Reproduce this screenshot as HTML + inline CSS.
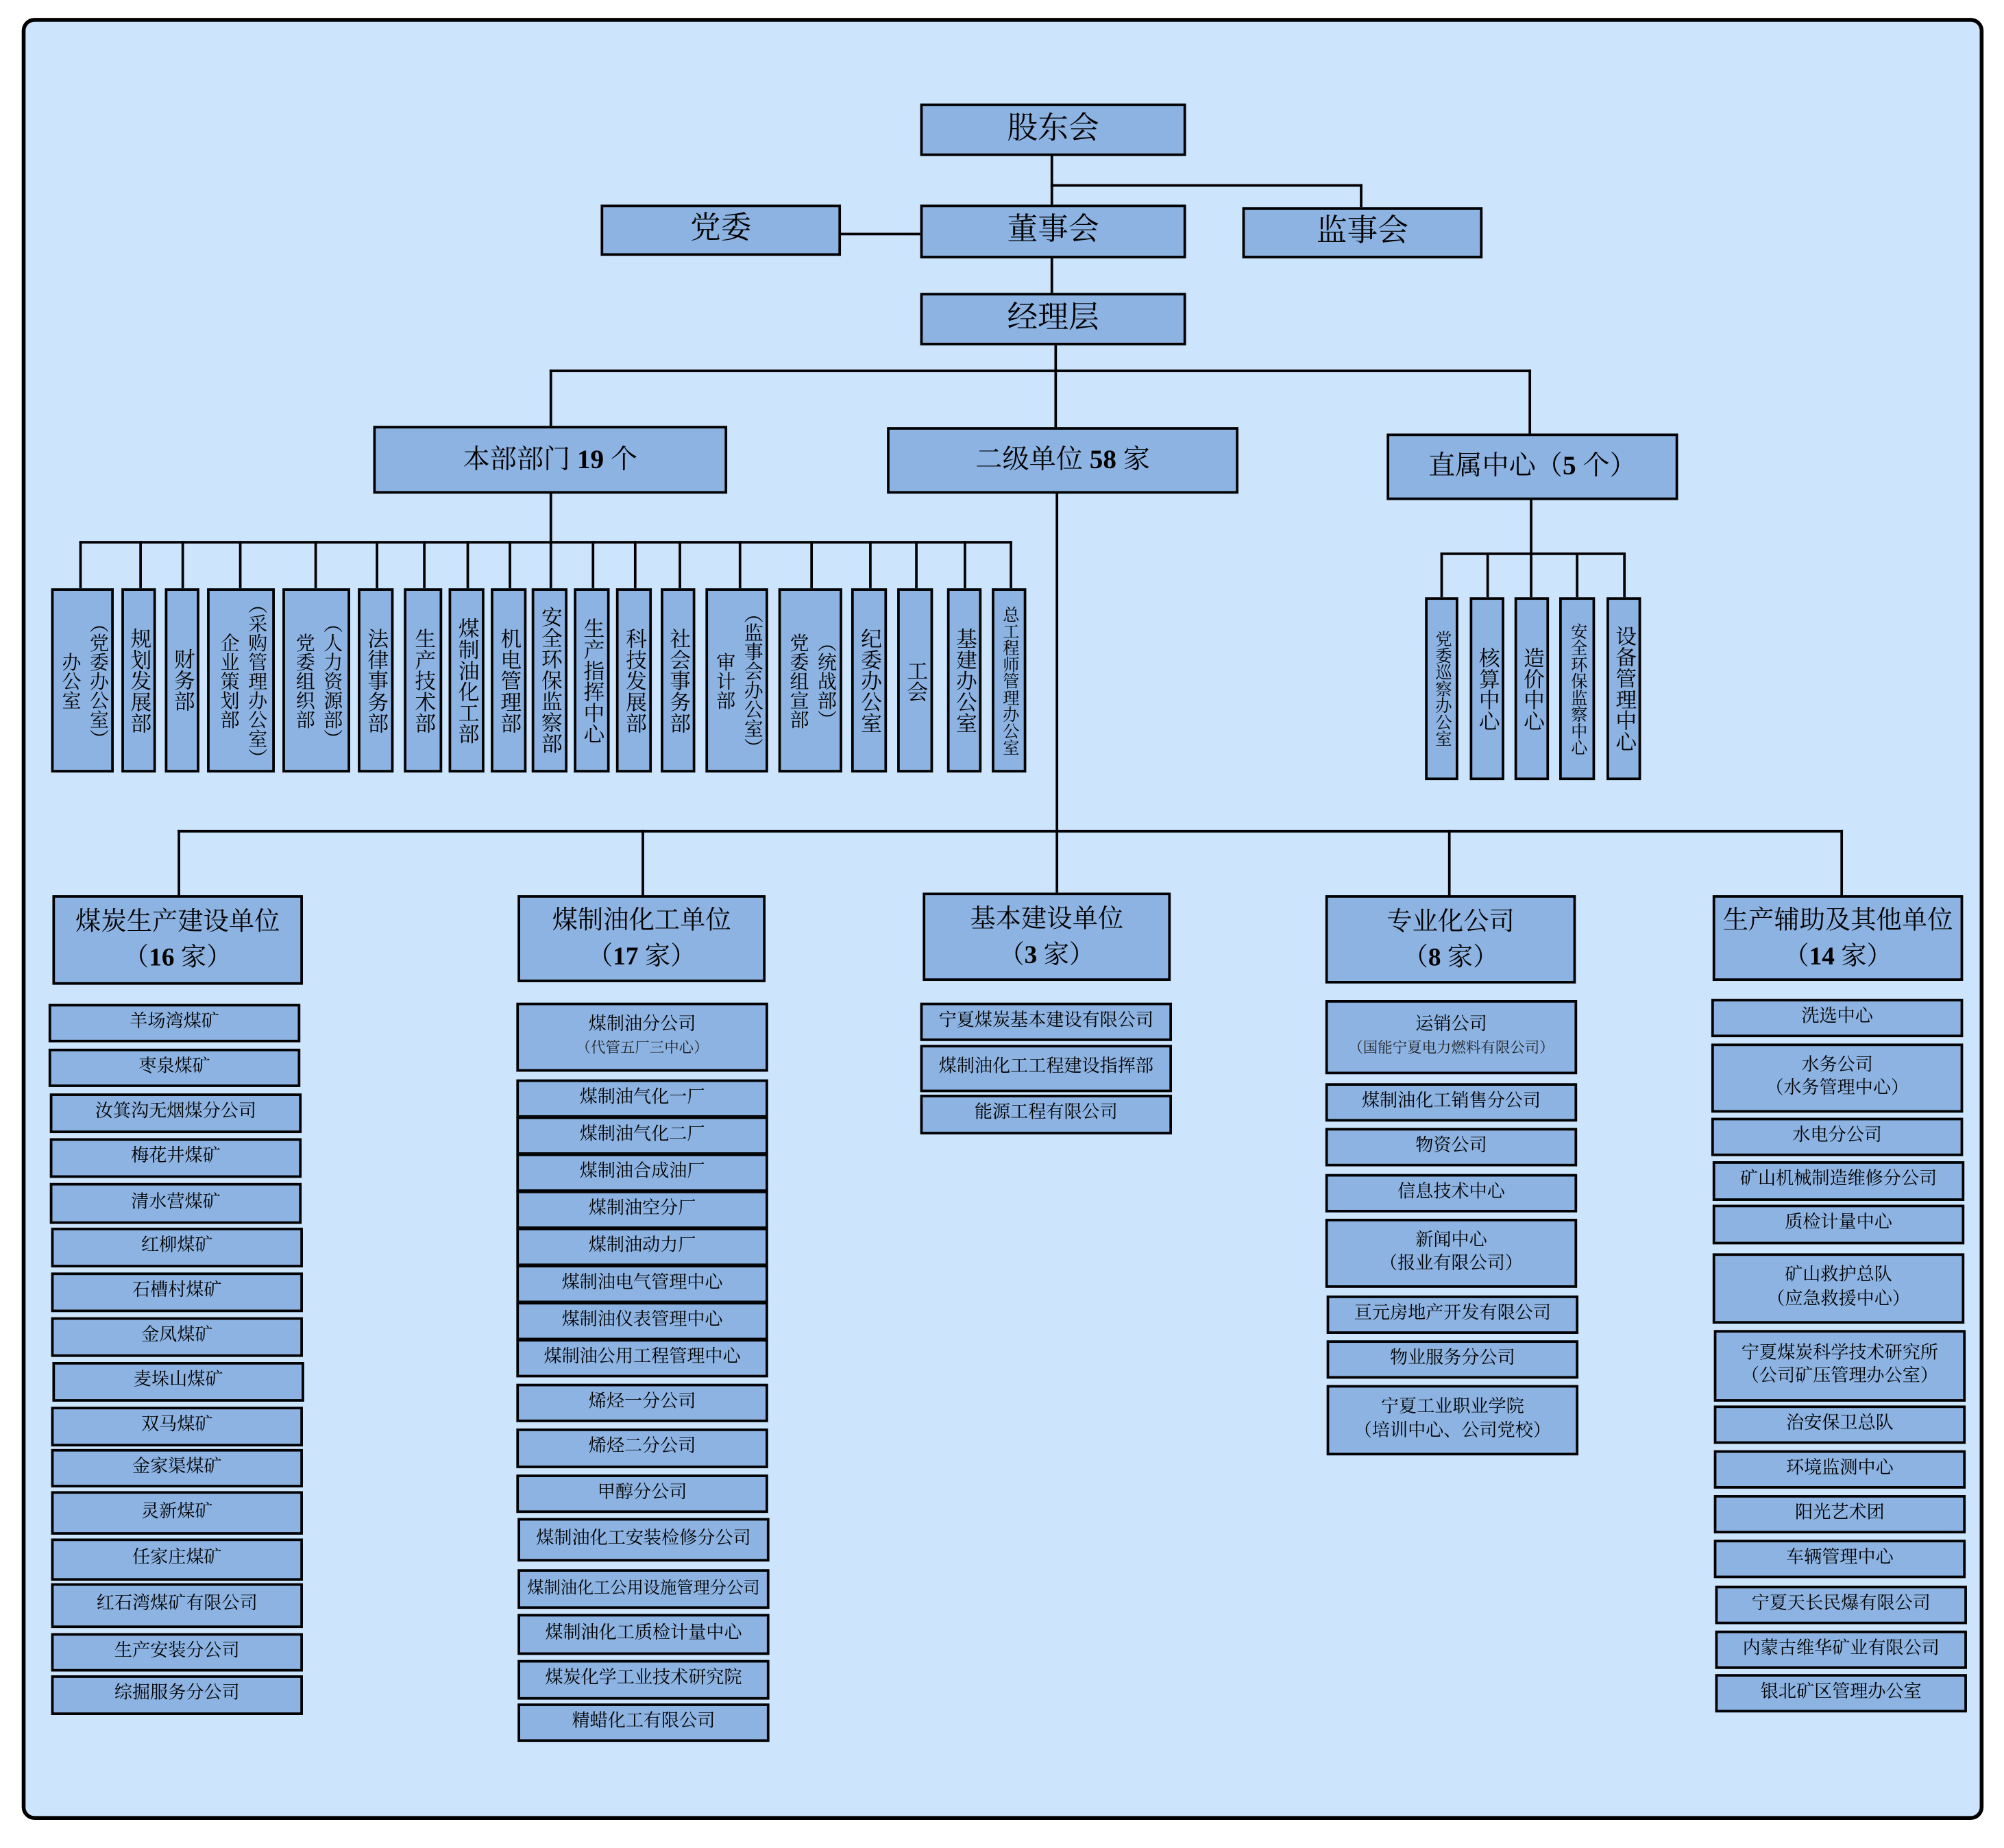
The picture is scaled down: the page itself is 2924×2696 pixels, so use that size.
<!DOCTYPE html>
<html><head><meta charset="utf-8">
<style>
html,body{margin:0;padding:0;background:#fff;width:2924px;height:2696px;overflow:hidden}
#w{position:absolute;left:0;top:0;width:1568px;height:1445px;transform:scale(1.86480,1.86574);transform-origin:0 0;font-family:"Liberation Serif","Noto Serif CJK SC",serif;color:#000}
#bg{position:absolute;left:17px;top:14px;width:1535px;height:1409px;box-sizing:border-box;border:3.5px solid #000;border-radius:10px;background:#cce4fc}
.b{position:absolute;box-sizing:border-box;border:2px solid #000;background:#8db3e2;display:flex;align-items:center;justify-content:center;text-align:center;line-height:1.3}
.b>span{display:block}
.t{font-size:24px}
.c{font-size:20px;line-height:1.4}
.i{font-size:14px}
.s{font-size:11.5px;color:#222}
.v{position:absolute;width:1.6px;background:#000}
.h{position:absolute;height:1.6px;background:#000}
.b>span.vt{writing-mode:vertical-rl;font-size:16.5px;line-height:1.2;letter-spacing:0}
.b>span.vd{writing-mode:vertical-rl;font-size:15px;line-height:1.45;letter-spacing:0}
.b>span.vs{writing-mode:vertical-rl;font-size:13px;line-height:1.1}
</style></head><body><div id="w">
<div id="bg"></div>

<div class="v" style="left:822px;top:121px;height:40px"></div>
<div class="h" style="left:822px;top:144px;width:244px"></div>
<div class="v" style="left:1064px;top:144px;height:18px"></div>
<div class="h" style="left:657px;top:182px;width:63px"></div>
<div class="v" style="left:822px;top:201px;height:28px"></div>
<div class="v" style="left:825px;top:269px;height:21px"></div>
<div class="h" style="left:430px;top:289px;width:768px"></div>
<div class="v" style="left:430px;top:289px;height:44px"></div>
<div class="v" style="left:825px;top:289px;height:45px"></div>
<div class="v" style="left:1196px;top:289px;height:50px"></div>

<div class="b t" style="left:720px;top:81px;width:208px;height:41px"><span>股东会</span></div>
<div class="b t" style="left:470px;top:160px;width:188px;height:40px"><span>党委</span></div>
<div class="b t" style="left:720px;top:160px;width:208px;height:42px"><span>董事会</span></div>
<div class="b t" style="left:972px;top:162px;width:188px;height:40px"><span>监事会</span></div>
<div class="b t" style="left:720px;top:229px;width:208px;height:41px"><span>经理层</span></div>

<div class="b c" style="left:292px;top:333px;width:277px;height:53px;font-size:21px"><span>本部部门 <b>19</b> 个</span></div>
<div class="b c" style="left:694px;top:334px;width:275px;height:52px;font-size:21px"><span>二级单位 <b>58</b> 家</span></div>
<div class="b c" style="left:1085px;top:339px;width:228px;height:52px;font-size:21px"><span>直属中心（<b>5</b> 个）</span></div>

<div class="v" style="left:430px;top:385px;height:39px"></div>
<div class="h" style="left:62px;top:423px;width:730px"></div>
<div class="v" style="left:62px;top:423px;height:37px"></div>
<div class="v" style="left:109px;top:423px;height:37px"></div>
<div class="v" style="left:142px;top:423px;height:37px"></div>
<div class="v" style="left:187px;top:423px;height:37px"></div>
<div class="v" style="left:246px;top:423px;height:37px"></div>
<div class="v" style="left:294px;top:423px;height:37px"></div>
<div class="v" style="left:331px;top:423px;height:37px"></div>
<div class="v" style="left:365px;top:423px;height:37px"></div>
<div class="v" style="left:398px;top:423px;height:37px"></div>
<div class="v" style="left:430px;top:423px;height:37px"></div>
<div class="v" style="left:463px;top:423px;height:37px"></div>
<div class="v" style="left:496px;top:423px;height:37px"></div>
<div class="v" style="left:531px;top:423px;height:37px"></div>
<div class="v" style="left:578px;top:423px;height:37px"></div>
<div class="v" style="left:634px;top:423px;height:37px"></div>
<div class="v" style="left:680px;top:423px;height:37px"></div>
<div class="v" style="left:716px;top:423px;height:37px"></div>
<div class="v" style="left:754px;top:423px;height:37px"></div>
<div class="v" style="left:790px;top:423px;height:37px"></div>

<div class="b" style="left:40px;top:460px;width:49px;height:144px"><span class="vd">（党委办公室）<br>办公室</span></div>
<div class="b" style="left:95px;top:460px;width:27px;height:144px"><span class="vt">规划发展部</span></div>
<div class="b" style="left:129px;top:460px;width:27px;height:144px"><span class="vt">财务部</span></div>
<div class="b" style="left:162px;top:460px;width:53px;height:144px"><span class="vd">（采购管理办公室）<br>企业策划部</span></div>
<div class="b" style="left:221px;top:460px;width:53px;height:144px"><span class="vd">（人力资源部）<br>党委组织部</span></div>
<div class="b" style="left:280px;top:460px;width:28px;height:144px"><span class="vt">法律事务部</span></div>
<div class="b" style="left:316px;top:460px;width:30px;height:144px"><span class="vt">生产技术部</span></div>
<div class="b" style="left:351px;top:460px;width:28px;height:144px"><span class="vt">煤制油化工部</span></div>
<div class="b" style="left:384px;top:460px;width:28px;height:144px"><span class="vt">机电管理部</span></div>
<div class="b" style="left:416px;top:460px;width:28px;height:144px"><span class="vt">安全环保监察部</span></div>
<div class="b" style="left:449px;top:460px;width:28px;height:144px"><span class="vt">生产指挥中心</span></div>
<div class="b" style="left:482px;top:460px;width:28px;height:144px"><span class="vt">科技发展部</span></div>
<div class="b" style="left:517px;top:460px;width:27px;height:144px"><span class="vt">社会事务部</span></div>
<div class="b" style="left:552px;top:460px;width:49px;height:144px"><span class="vd">（监事会办公室）<br>审计部</span></div>
<div class="b" style="left:609px;top:460px;width:50px;height:144px"><span class="vd">（统战部）<br>党委组宣部</span></div>
<div class="b" style="left:666px;top:460px;width:28px;height:144px"><span class="vt">纪委办公室</span></div>
<div class="b" style="left:702px;top:460px;width:28px;height:144px"><span class="vt">工会</span></div>
<div class="b" style="left:741px;top:460px;width:27px;height:144px"><span class="vt">基建办公室</span></div>
<div class="b" style="left:776px;top:460px;width:27px;height:144px"><span class="vs">总工程师管理办公室</span></div>

<div class="v" style="left:1197px;top:390px;height:43px"></div>
<div class="h" style="left:1127px;top:432px;width:144px"></div>
<div class="v" style="left:1127px;top:432px;height:35px"></div>
<div class="v" style="left:1163px;top:432px;height:35px"></div>
<div class="v" style="left:1197px;top:432px;height:35px"></div>
<div class="v" style="left:1233px;top:432px;height:35px"></div>
<div class="v" style="left:1270px;top:432px;height:35px"></div>
<div class="b" style="left:1115px;top:467px;width:26px;height:143px"><span class="vs">党委巡察办公室</span></div>
<div class="b" style="left:1150px;top:467px;width:27px;height:143px"><span class="vt">核算中心</span></div>
<div class="b" style="left:1185px;top:467px;width:27px;height:143px"><span class="vt">造价中心</span></div>
<div class="b" style="left:1220px;top:467px;width:28px;height:143px"><span class="vs">安全环保监察中心</span></div>
<div class="b" style="left:1257px;top:467px;width:27px;height:143px"><span class="vt">设备管理中心</span></div>

<div class="v" style="left:826px;top:385px;height:266px"></div>
<div class="h" style="left:139px;top:649px;width:1303px"></div>
<div class="v" style="left:139px;top:649px;height:51px"></div>
<div class="v" style="left:502px;top:649px;height:51px"></div>
<div class="v" style="left:826px;top:649px;height:49px"></div>
<div class="v" style="left:1133px;top:649px;height:51px"></div>
<div class="v" style="left:1440px;top:649px;height:51px"></div>

<div class="b c" style="left:41px;top:700px;width:196px;height:70px"><span>煤炭生产建设单位<br>（<b>16</b> 家）</span></div>
<div class="b c" style="left:405px;top:700px;width:194px;height:68px"><span>煤制油化工单位<br>（<b>17</b> 家）</span></div>
<div class="b c" style="left:722px;top:698px;width:194px;height:69px"><span>基本建设单位<br>（<b>3</b> 家）</span></div>
<div class="b c" style="left:1037px;top:700px;width:196px;height:69px"><span>专业化公司<br>（<b>8</b> 家）</span></div>
<div class="b c" style="left:1340px;top:700px;width:196px;height:67px"><span>生产辅助及其他单位<br>（<b>14</b> 家）</span></div>

<div class="b i" style="left:38px;top:785px;width:197px;height:30px"><span>羊场湾煤矿</span></div>
<div class="b i" style="left:38px;top:820px;width:197px;height:30px"><span>枣泉煤矿</span></div>
<div class="b i" style="left:39px;top:855px;width:197px;height:31px"><span>汝箕沟无烟煤分公司</span></div>
<div class="b i" style="left:39px;top:890px;width:197px;height:31px"><span>梅花井煤矿</span></div>
<div class="b i" style="left:39px;top:925px;width:197px;height:32px"><span>清水营煤矿</span></div>
<div class="b i" style="left:40px;top:960px;width:197px;height:31px"><span>红柳煤矿</span></div>
<div class="b i" style="left:40px;top:995px;width:197px;height:31px"><span>石槽村煤矿</span></div>
<div class="b i" style="left:40px;top:1030px;width:197px;height:31px"><span>金凤煤矿</span></div>
<div class="b i" style="left:41px;top:1065px;width:197px;height:31px"><span>麦垛山煤矿</span></div>
<div class="b i" style="left:40px;top:1100px;width:197px;height:31px"><span>双马煤矿</span></div>
<div class="b i" style="left:40px;top:1133px;width:197px;height:30px"><span>金家渠煤矿</span></div>
<div class="b i" style="left:40px;top:1166px;width:197px;height:34px"><span>灵新煤矿</span></div>
<div class="b i" style="left:40px;top:1203px;width:197px;height:33px"><span>任家庄煤矿</span></div>
<div class="b i" style="left:40px;top:1238px;width:197px;height:35px"><span>红石湾煤矿有限公司</span></div>
<div class="b i" style="left:40px;top:1277px;width:197px;height:30px"><span>生产安装分公司</span></div>
<div class="b i" style="left:40px;top:1310px;width:197px;height:31px"><span>综掘服务分公司</span></div>

<div class="b i" style="left:404px;top:784px;width:197px;height:54px"><span>煤制油分公司<br><span class="s">（代管五厂三中心）</span></span></div>
<div class="b i" style="left:404px;top:844px;width:197px;height:30px"><span>煤制油气化一厂</span></div>
<div class="b i" style="left:404px;top:873px;width:197px;height:30px"><span>煤制油气化二厂</span></div>
<div class="b i" style="left:404px;top:902px;width:197px;height:30px"><span>煤制油合成油厂</span></div>
<div class="b i" style="left:404px;top:931px;width:197px;height:30px"><span>煤制油空分厂</span></div>
<div class="b i" style="left:404px;top:960px;width:197px;height:30px"><span>煤制油动力厂</span></div>
<div class="b i" style="left:404px;top:989px;width:197px;height:30px"><span>煤制油电气管理中心</span></div>
<div class="b i" style="left:404px;top:1018px;width:197px;height:30px"><span>煤制油仪表管理中心</span></div>
<div class="b i" style="left:404px;top:1047px;width:197px;height:30px"><span>煤制油公用工程管理中心</span></div>
<div class="b i" style="left:404px;top:1082px;width:197px;height:30px"><span>烯烃一分公司</span></div>
<div class="b i" style="left:404px;top:1117px;width:197px;height:31px"><span>烯烃二分公司</span></div>
<div class="b i" style="left:404px;top:1153px;width:197px;height:30px"><span>甲醇分公司</span></div>
<div class="b i" style="left:405px;top:1187px;width:197px;height:34px"><span>煤制油化工安装检修分公司</span></div>
<div class="b i" style="left:405px;top:1227px;width:197px;height:31px;font-size:13px"><span>煤制油化工公用设施管理分公司</span></div>
<div class="b i" style="left:405px;top:1262px;width:197px;height:32px"><span>煤制油化工质检计量中心</span></div>
<div class="b i" style="left:405px;top:1298px;width:197px;height:31px"><span>煤炭化学工业技术研究院</span></div>
<div class="b i" style="left:405px;top:1332px;width:197px;height:30px"><span>精蜡化工有限公司</span></div>

<div class="b i" style="left:720px;top:784px;width:197px;height:30px"><span>宁夏煤炭基本建设有限公司</span></div>
<div class="b i" style="left:720px;top:817px;width:197px;height:37px"><span>煤制油化工工程建设指挥部</span></div>
<div class="b i" style="left:720px;top:856px;width:197px;height:31px"><span>能源工程有限公司</span></div>

<div class="b i" style="left:1037px;top:782px;width:197px;height:58px"><span>运销公司<br><span class="s">（国能宁夏电力燃料有限公司）</span></span></div>
<div class="b i" style="left:1037px;top:847px;width:197px;height:30px"><span>煤制油化工销售分公司</span></div>
<div class="b i" style="left:1037px;top:882px;width:197px;height:30px"><span>物资公司</span></div>
<div class="b i" style="left:1037px;top:918px;width:197px;height:30px"><span>信息技术中心</span></div>
<div class="b i" style="left:1037px;top:953px;width:197px;height:54px"><span>新闻中心<br>（报业有限公司）</span></div>
<div class="b i" style="left:1038px;top:1013px;width:197px;height:30px"><span>亘元房地产开发有限公司</span></div>
<div class="b i" style="left:1038px;top:1048px;width:197px;height:30px"><span>物业服务分公司</span></div>
<div class="b i" style="left:1038px;top:1083px;width:197px;height:55px"><span>宁夏工业职业学院<br>（培训中心、公司党校）</span></div>

<div class="b i" style="left:1339px;top:781px;width:197px;height:30px"><span>洗选中心</span></div>
<div class="b i" style="left:1339px;top:816px;width:197px;height:54px"><span>水务公司<br>（水务管理中心）</span></div>
<div class="b i" style="left:1339px;top:874px;width:197px;height:30px"><span>水电分公司</span></div>
<div class="b i" style="left:1340px;top:908px;width:197px;height:31px"><span>矿山机械制造维修分公司</span></div>
<div class="b i" style="left:1340px;top:942px;width:197px;height:31px"><span>质检计量中心</span></div>
<div class="b i" style="left:1340px;top:980px;width:197px;height:55px"><span>矿山救护总队<br>（应急救援中心）</span></div>
<div class="b i" style="left:1341px;top:1040px;width:197px;height:56px"><span>宁夏煤炭科学技术研究所<br>（公司矿压管理办公室）</span></div>
<div class="b i" style="left:1341px;top:1099px;width:197px;height:30px"><span>治安保卫总队</span></div>
<div class="b i" style="left:1341px;top:1134px;width:197px;height:30px"><span>环境监测中心</span></div>
<div class="b i" style="left:1341px;top:1169px;width:197px;height:30px"><span>阳光艺术团</span></div>
<div class="b i" style="left:1341px;top:1204px;width:197px;height:30px"><span>车辆管理中心</span></div>
<div class="b i" style="left:1342px;top:1240px;width:197px;height:30px"><span>宁夏天长民爆有限公司</span></div>
<div class="b i" style="left:1342px;top:1275px;width:197px;height:30px"><span>内蒙古维华矿业有限公司</span></div>
<div class="b i" style="left:1342px;top:1309px;width:197px;height:30px"><span>银北矿区管理办公室</span></div>
</div></body></html>
